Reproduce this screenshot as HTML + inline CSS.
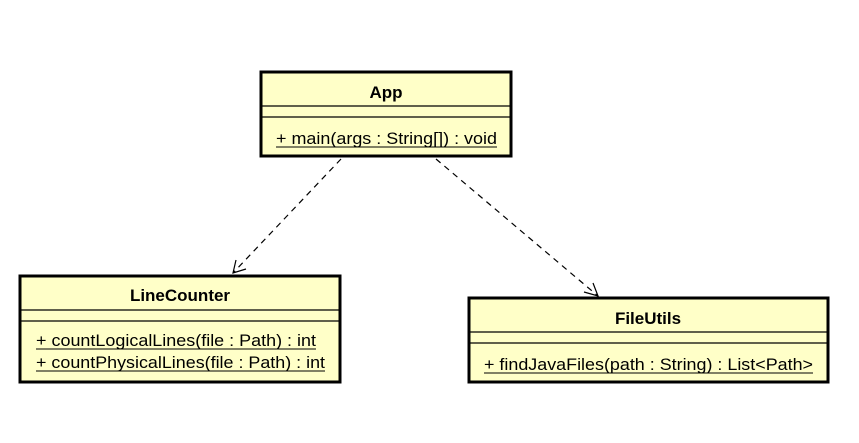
<!DOCTYPE html>
<html><head><meta charset="utf-8"><style>
html,body{margin:0;padding:0;background:#fff;}
svg text{font-family:"Liberation Sans",Arial,sans-serif;font-size:17px;fill:#000;}
</style></head><body>
<svg width="859" height="438" viewBox="0 0 859 438" xmlns="http://www.w3.org/2000/svg">
<rect width="859" height="438" fill="#fff"/>
<!-- App -->
<rect x="261" y="72" width="250" height="84" fill="#ffffc8" stroke="#000" stroke-width="3"/>
<line x1="261" y1="106" x2="511" y2="106" stroke="#000" stroke-width="1.3"/>
<line x1="261" y1="117" x2="511" y2="117" stroke="#000" stroke-width="1.3"/>
<text x="386" y="98" text-anchor="middle" font-weight="bold">App</text>
<text x="276" y="144" textLength="221" lengthAdjust="spacingAndGlyphs">+ main(args : String[]) : void</text>
<line x1="276" y1="147" x2="497" y2="147" stroke="#000" stroke-width="1"/>
<!-- LineCounter -->
<rect x="20" y="276" width="320" height="106" fill="#ffffc8" stroke="#000" stroke-width="3"/>
<line x1="20" y1="310" x2="340" y2="310" stroke="#000" stroke-width="1.3"/>
<line x1="20" y1="321" x2="340" y2="321" stroke="#000" stroke-width="1.3"/>
<text x="180" y="301" text-anchor="middle" font-weight="bold">LineCounter</text>
<text x="36" y="346" textLength="280" lengthAdjust="spacingAndGlyphs">+ countLogicalLines(file : Path) : int</text>
<line x1="36" y1="349" x2="316" y2="349" stroke="#000" stroke-width="1"/>
<text x="36" y="368" textLength="289" lengthAdjust="spacingAndGlyphs">+ countPhysicalLines(file : Path) : int</text>
<line x1="36" y1="371" x2="325" y2="371" stroke="#000" stroke-width="1"/>
<!-- FileUtils -->
<rect x="469" y="298" width="359" height="84" fill="#ffffc8" stroke="#000" stroke-width="3"/>
<line x1="469" y1="332" x2="828" y2="332" stroke="#000" stroke-width="1.3"/>
<line x1="469" y1="343" x2="828" y2="343" stroke="#000" stroke-width="1.3"/>
<text x="648" y="324" text-anchor="middle" font-weight="bold">FileUtils</text>
<text x="484" y="370" textLength="329" lengthAdjust="spacingAndGlyphs">+ findJavaFiles(path : String) : List&lt;Path&gt;</text>
<line x1="484" y1="373" x2="813" y2="373" stroke="#000" stroke-width="1"/>
<!-- connectors -->
<g stroke="#000" stroke-width="1.2" fill="none">
<line x1="341" y1="159" x2="233" y2="273" stroke-dasharray="6,5"/>
<polyline points="236,260 233,273 246,269"/>
<line x1="436" y1="159" x2="598" y2="296" stroke-dasharray="6,5"/>
<polyline points="584,292 598,296 593,283"/>
</g>
</svg>
</body></html>
